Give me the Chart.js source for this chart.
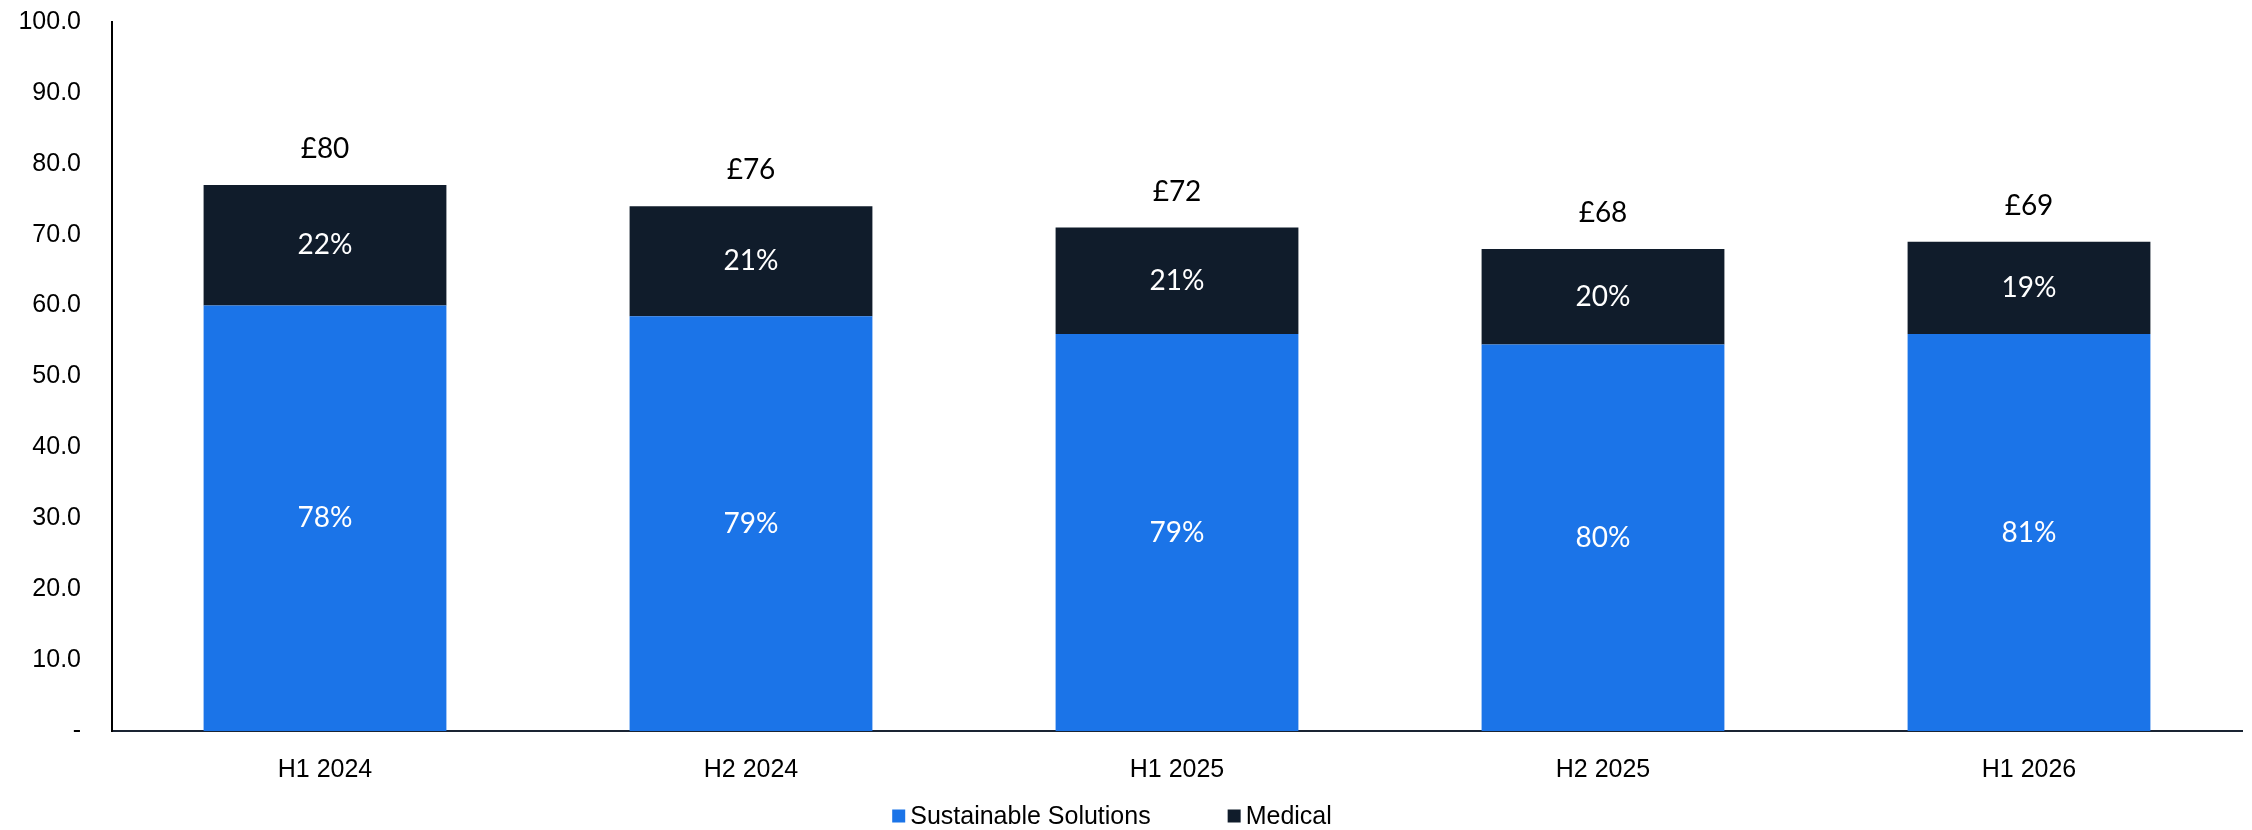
<!DOCTYPE html>
<html lang="en">
<head>
<meta charset="utf-8">
<title>Receita por semestre</title>
<script src="https://cdn.jsdelivr.net/npm/chart.js@4/dist/chart.umd.min.js"></script>
<style>
    html, body { margin: 0; padding: 0; background: #ffffff; }
    #grafico-wrap { width: 2252px; height: 830px; position: relative; }
</style>
</head>
<body>
<div id="grafico-wrap"><canvas id="receitaChart"></canvas></div>
<script>
// Dados do gráfico
const categorias = ['H1 2024', 'H2 2024', 'H1 2025', 'H2 2025', 'H1 2026'];
const sustentavel = [60, 58.5, 56, 54.5, 56];
const medico = [17, 15.5, 15, 13.5, 13];
const rotulosTotal = ['£80', '£76', '£72', '£68', '£69'];
const ticksY = [0, 10, 20, 30, 40, 50, 60, 70, 80, 90, 100];

const AZUL = '#1b74e8';
const ESCURO = '#101c2b';
const fonteEixo = '"Liberation Sans", Arial, sans-serif';
const fonteRotulo = 'Lato, "Noto Sans", sans-serif';

document.addEventListener('DOMContentLoaded', function () {
    // Rótulos de percentagem dentro das barras e total acima de cada coluna
    const rotulosPlugin = {
        id: 'rotulos',
        afterDatasetsDraw(chart) {
            const ctx = chart.ctx;
            const metaBase = chart.getDatasetMeta(0);
            const metaTopo = chart.getDatasetMeta(1);
            ctx.save();
            ctx.textAlign = 'center';
            ctx.textBaseline = 'middle';
            ctx.font = '28px ' + fonteRotulo;
            ctx.fillStyle = '#ffffff';
            categorias.forEach((c, i) => {
                const total = sustentavel[i] + medico[i];
                [[metaBase, sustentavel[i]], [metaTopo, medico[i]]].forEach(([meta, v]) => {
                    const bar = meta.data[i];
                    const meio = (bar.y + bar.base) / 2;
                    ctx.fillText(Math.round(v / total * 100) + '%', bar.x, meio);
                });
            });
            ctx.fillStyle = '#000000';
            categorias.forEach((c, i) => {
                const bar = metaTopo.data[i];
                ctx.fillText(rotulosTotal[i], bar.x, bar.y - 36);
            });
            ctx.restore();
        }
    };

    // Legenda desenhada à mão (espaçamento igual ao do relatório)
    const legendaPlugin = {
        id: 'legendaManual',
        afterDraw(chart) {
            const ctx = chart.ctx;
            const caixa = 13, gap = 5, espaco = 77;
            ctx.save();
            ctx.font = '25px ' + fonteEixo;
            ctx.textBaseline = 'middle';
            ctx.textAlign = 'left';
            const itens = chart.data.datasets.map(ds => ({
                texto: ds.label, cor: ds.backgroundColor,
                largura: caixa + gap + ctx.measureText(ds.label).width
            }));
            const totalLargura = itens.reduce((s, it) => s + it.largura, 0) + espaco * (itens.length - 1);
            let x = chart.width / 2 - 14 - totalLargura / 2;
            const y = 816;
            itens.forEach(it => {
                ctx.fillStyle = it.cor;
                ctx.fillRect(x, y - caixa / 2, caixa, caixa);
                ctx.fillStyle = '#000000';
                ctx.fillText(it.texto, x + caixa + gap, y + 1);
                x += it.largura + espaco;
            });
            ctx.restore();
        }
    };

    const ctxReceita = document.getElementById('receitaChart').getContext('2d');
    const receitaChart = new Chart(ctxReceita, {
        type: 'bar',
        data: {
            labels: categorias,
            datasets: [{
                label: 'Sustainable Solutions',
                data: sustentavel,
                backgroundColor: AZUL,
                borderWidth: 0
            }, {
                label: 'Medical',
                data: medico,
                backgroundColor: ESCURO,
                borderWidth: 0
            }]
        },
        options: {
            responsive: true,
            maintainAspectRatio: false,
            animation: false,
            datasets: {
                bar: { categoryPercentage: 1, barPercentage: 0.57 }
            },
            layout: {
                padding: { top: 22, right: 10, left: 0, bottom: 47 }
            },
            plugins: {
                legend: { display: false },
                tooltip: { enabled: false }
            },
            scales: {
                x: {
                    stacked: true,
                    grid: { display: false, drawTicks: false },
                    border: { display: true, color: '#1a2433', width: 2 },
                    ticks: {
                        color: '#000000',
                        padding: 24,
                        font: { family: fonteEixo, size: 25 }
                    },
                    afterFit: (s) => { s.height = 52; }
                },
                y: {
                    stacked: true,
                    min: 0,
                    max: 100,
                    afterBuildTicks: (s) => { s.ticks = ticksY.map(v => ({ value: v })); },
                    grid: { display: false, drawTicks: false },
                    border: { display: true, color: '#000000', width: 2 },
                    ticks: {
                        color: '#000000',
                        padding: 31,
                        font: { family: fonteEixo, size: 25 },
                        callback: (v) => v === 0 ? '-' : Number(v).toFixed(1)
                    },
                    // largura fixa do eixo e sem folga extra em cima/baixo
                    afterFit: (s) => {
                        s.width = 112;
                        s.paddingTop = 0;
                        s.paddingBottom = 0;
                    }
                }
            }
        },
        plugins: [rotulosPlugin, legendaPlugin]
    });
});
</script>
</body>
</html>
